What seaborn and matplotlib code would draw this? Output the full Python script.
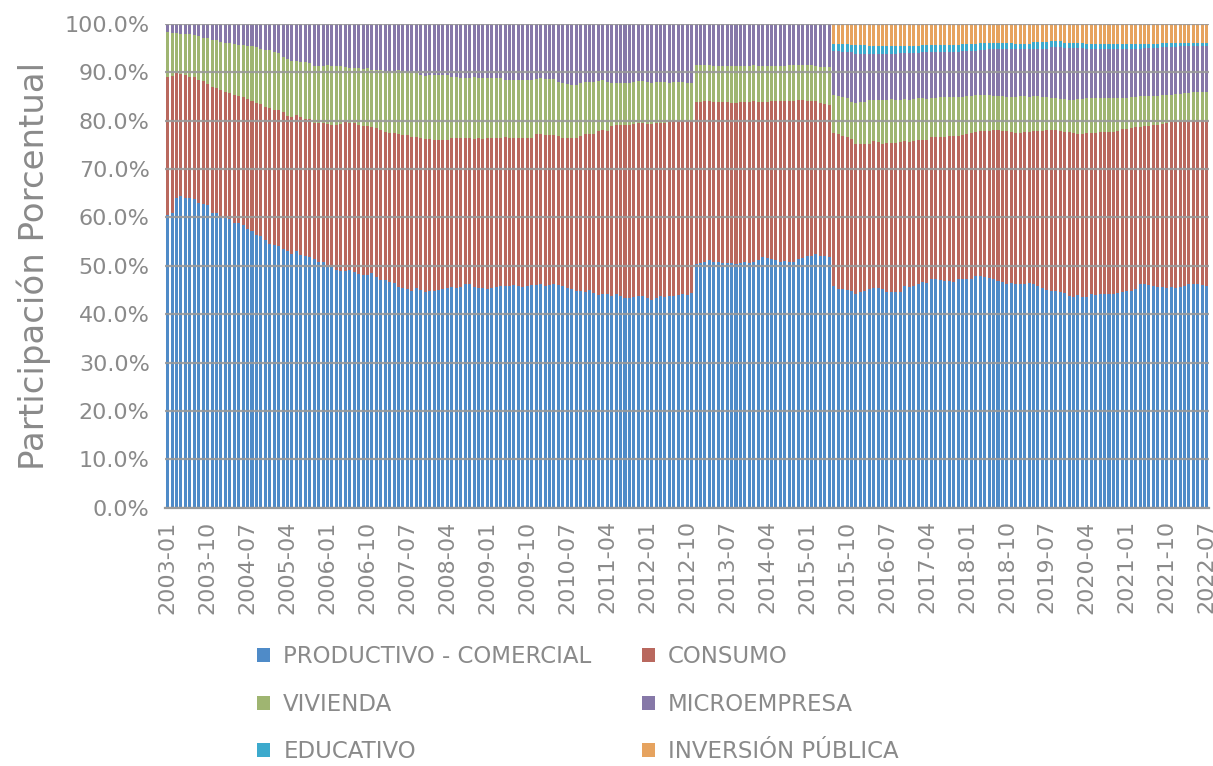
"""
Participación porcentual de la cartera por segmento de crédito (mensual, 2003-01 a 2022-07)
"""
import numpy as np
import pandas as pd
import seaborn as sns
import matplotlib.pyplot as plt
from matplotlib.patches import Patch

sns.set_style("white")
plt.rcParams['font.family'] = ['DejaVu Sans']

MESES = pd.period_range('2003-01', '2022-07', freq='M').strftime('%Y-%m').tolist()

# participación (%) por mes, una fila por año
PRODUCTIVO = [
    60.5, 61.0, 64.1, 64.5, 64.1, 64.1, 63.8, 63.0, 62.8, 62.5, 61.0, 61.0,
    59.9, 59.9, 59.6, 58.9, 58.8, 58.4, 57.7, 57.2, 56.3, 56.2, 55.4, 54.6,
    54.2, 54.0, 53.5, 53.1, 52.5, 53.1, 52.3, 52.1, 51.8, 51.5, 50.8, 50.8,
    49.8, 49.7, 49.2, 49.0, 49.0, 49.2, 48.8, 48.3, 48.0, 48.0, 48.6, 47.6,
    47.1, 47.1, 46.7, 46.5, 45.6, 45.4, 45.3, 44.8, 45.4, 45.1, 44.6, 44.8,
    44.8, 45.0, 45.2, 45.5, 45.6, 45.5, 45.7, 46.3, 46.2, 45.6, 45.4, 45.5,
    45.3, 45.4, 45.7, 45.8, 45.9, 45.8, 46.1, 45.8, 45.7, 45.8, 46.1, 46.0,
    46.2, 45.9, 46.0, 46.2, 46.0, 45.8, 45.5, 45.2, 44.8, 44.8, 44.6, 45.0,
    44.4, 43.9, 44.1, 44.1, 43.8, 44.1, 43.7, 43.4, 43.4, 43.6, 43.7, 43.8,
    43.4, 43.0, 43.4, 43.7, 43.6, 43.8, 43.7, 43.9, 44.1, 43.9, 44.4, 50.3,
    50.5, 50.8, 51.3, 50.8, 50.8, 50.6, 50.6, 50.5, 50.3, 50.6, 50.8, 50.5,
    50.8, 51.3, 51.9, 51.7, 51.5, 51.3, 50.8, 51.0, 50.8, 50.8, 51.4, 51.7,
    52.1, 52.1, 52.4, 52.1, 52.0, 51.9, 45.8, 45.3, 45.2, 45.1, 44.8, 44.1,
    44.5, 44.8, 45.2, 45.5, 45.4, 45.2, 44.6, 44.6, 44.6, 44.6, 45.9, 45.7,
    45.9, 46.2, 46.6, 46.5, 47.2, 47.2, 47.0, 46.8, 46.8, 46.7, 47.2, 47.2,
    47.2, 47.3, 47.9, 47.9, 47.7, 47.5, 47.2, 46.8, 46.7, 46.3, 46.5, 46.2,
    46.3, 46.3, 46.5, 46.2, 45.9, 45.4, 45.1, 44.8, 44.8, 44.6, 44.3, 43.8,
    43.6, 43.9, 43.6, 43.6, 44.1, 43.9, 44.2, 44.2, 44.2, 44.2, 44.4, 44.6,
    44.7, 44.8, 45.2, 46.3, 46.3, 46.1, 45.8, 45.7, 45.7, 45.4, 45.7, 45.4,
    45.7, 45.9, 46.3, 46.3, 46.3, 46.1, 45.8,
]
CONSUMO = [
    28.4, 28.3, 25.7, 25.1, 25.3, 25.0, 25.1, 25.3, 25.3, 25.1, 25.9, 25.8,
    26.4, 26.1, 26.1, 26.3, 26.2, 26.4, 26.7, 26.9, 27.4, 27.2, 27.5, 28.0,
    27.9, 28.1, 28.2, 27.9, 28.3, 28.1, 28.4, 28.3, 28.5, 28.1, 28.6, 28.6,
    29.4, 29.4, 29.8, 30.2, 30.7, 30.4, 30.6, 30.7, 30.8, 30.8, 30.0, 30.8,
    31.0, 30.6, 30.8, 30.9, 31.6, 31.6, 31.7, 31.9, 31.2, 31.2, 31.5, 31.3,
    31.2, 31.0, 30.7, 30.5, 30.7, 30.9, 30.7, 30.1, 30.1, 30.6, 30.9, 30.7,
    31.0, 30.9, 30.7, 30.7, 30.7, 30.7, 30.4, 30.7, 30.7, 30.6, 30.3, 31.2,
    31.0, 31.1, 31.0, 30.8, 30.8, 30.6, 30.9, 31.2, 31.6, 32.1, 32.6, 32.3,
    32.9, 34.0, 34.0, 33.8, 35.1, 35.0, 35.4, 35.7, 35.7, 35.6, 35.9, 35.8,
    35.9, 36.3, 36.0, 35.9, 36.0, 36.0, 36.2, 36.0, 35.8, 36.0, 35.5, 33.6,
    33.4, 33.2, 32.8, 33.1, 33.1, 33.3, 33.3, 33.2, 33.4, 33.2, 33.1, 33.4,
    33.2, 32.6, 32.0, 32.2, 32.6, 32.8, 33.3, 33.1, 33.3, 33.3, 32.8, 32.5,
    32.0, 32.0, 31.7, 31.5, 31.5, 31.4, 31.7, 31.9, 31.7, 31.6, 31.4, 31.1,
    30.7, 30.4, 30.0, 30.2, 30.2, 30.0, 30.8, 30.8, 30.8, 31.0, 29.9, 29.9,
    29.9, 29.7, 29.3, 29.4, 29.5, 29.5, 29.7, 29.9, 30.0, 30.1, 29.7, 29.8,
    30.0, 30.1, 29.8, 30.0, 30.2, 30.4, 30.9, 31.3, 31.2, 31.6, 31.2, 31.2,
    31.2, 31.4, 31.2, 31.7, 32.0, 32.5, 33.0, 33.3, 33.3, 33.3, 33.4, 33.9,
    33.8, 33.4, 33.7, 33.8, 33.4, 33.6, 33.5, 33.5, 33.5, 33.5, 33.5, 33.7,
    33.6, 33.6, 33.4, 32.3, 32.5, 32.8, 33.2, 33.3, 33.5, 34.0, 34.0, 34.4,
    34.1, 33.9, 33.6, 33.7, 33.8, 34.0, 34.3,
]
VIVIENDA = [
    9.3, 8.8, 8.2, 8.3, 8.5, 8.7, 8.8, 9.1, 9.0, 9.4, 9.8, 9.8,
    10.0, 10.1, 10.4, 10.7, 10.7, 10.8, 11.0, 11.2, 11.4, 11.4, 11.7, 11.9,
    12.0, 11.8, 11.4, 11.7, 11.5, 11.2, 11.4, 11.6, 11.6, 11.7, 11.8, 11.8,
    12.2, 12.1, 12.2, 12.0, 11.3, 11.3, 11.4, 11.8, 11.8, 12.0, 11.9, 12.1,
    12.4, 12.6, 12.8, 12.9, 13.3, 13.3, 13.1, 13.2, 13.2, 13.2, 13.1, 13.3,
    13.4, 13.4, 13.6, 13.4, 12.8, 12.5, 12.4, 12.4, 12.4, 12.7, 12.5, 12.6,
    12.5, 12.4, 12.4, 12.3, 11.7, 11.8, 11.8, 11.8, 11.9, 11.9, 11.9, 11.4,
    11.5, 11.6, 11.6, 11.5, 11.2, 11.3, 11.2, 11.0, 11.0, 10.8, 10.7, 10.6,
    10.7, 10.3, 10.2, 10.0, 8.8, 8.6, 8.6, 8.6, 8.7, 8.8, 8.5, 8.5,
    8.6, 8.5, 8.5, 8.3, 8.3, 8.0, 8.0, 8.0, 8.0, 7.9, 7.9, 7.6,
    7.6, 7.4, 7.3, 7.4, 7.4, 7.4, 7.4, 7.6, 7.6, 7.5, 7.4, 7.4,
    7.4, 7.4, 7.4, 7.4, 7.2, 7.2, 7.2, 7.2, 7.3, 7.3, 7.2, 7.2,
    7.3, 7.3, 7.2, 7.5, 7.6, 7.8, 7.7, 7.8, 7.9, 7.9, 7.6, 8.5,
    8.7, 8.6, 9.1, 8.6, 8.7, 9.1, 8.9, 9.0, 8.9, 8.7, 8.6, 8.7,
    8.6, 8.7, 8.7, 8.6, 7.9, 8.0, 8.1, 8.1, 8.0, 8.0, 7.9, 7.8,
    7.8, 7.7, 7.5, 7.4, 7.4, 7.3, 7.0, 7.0, 7.2, 6.9, 7.1, 7.4,
    7.6, 7.4, 7.1, 7.2, 7.2, 6.9, 6.7, 6.5, 6.5, 6.5, 6.7, 6.6,
    6.9, 7.1, 7.1, 7.2, 7.1, 7.2, 7.0, 7.0, 6.9, 7.0, 6.8, 6.3,
    6.4, 6.4, 6.2, 6.4, 6.2, 6.1, 6.0, 6.1, 6.0, 5.8, 5.6, 5.6,
    5.7, 5.9, 5.8, 5.8, 5.7, 5.8, 5.9,
]
MICROEMPRESA = [
    1.8, 1.9, 2.0, 2.1, 2.1, 2.2, 2.3, 2.6, 2.9, 3.0, 3.3, 3.4,
    3.7, 3.9, 3.9, 4.1, 4.3, 4.4, 4.6, 4.7, 4.9, 5.2, 5.4, 5.5,
    5.9, 6.1, 6.9, 7.3, 7.7, 7.6, 7.9, 8.0, 8.1, 8.7, 8.8, 8.8,
    8.6, 8.8, 8.8, 8.8, 9.0, 9.1, 9.2, 9.2, 9.4, 9.2, 9.5, 9.5,
    9.5, 9.7, 9.7, 9.7, 9.5, 9.7, 9.9, 10.1, 10.2, 10.5, 10.8, 10.6,
    10.6, 10.6, 10.5, 10.6, 10.9, 11.1, 11.2, 11.2, 11.3, 11.1, 11.2, 11.2,
    11.2, 11.3, 11.2, 11.2, 11.7, 11.7, 11.7, 11.7, 11.7, 11.7, 11.7, 11.4,
    11.3, 11.4, 11.4, 11.5, 12.0, 12.3, 12.4, 12.6, 12.6, 12.3, 12.1, 12.1,
    12.0, 11.8, 11.7, 12.1, 12.3, 12.3, 12.3, 12.3, 12.2, 12.0, 11.9, 11.9,
    12.1, 12.2, 12.1, 12.1, 12.1, 12.2, 12.1, 12.1, 12.1, 12.2, 12.2, 8.5,
    8.5, 8.6, 8.6, 8.7, 8.7, 8.7, 8.7, 8.7, 8.7, 8.7, 8.7, 8.7,
    8.6, 8.7, 8.7, 8.7, 8.7, 8.7, 8.7, 8.7, 8.6, 8.6, 8.6, 8.6,
    8.6, 8.6, 8.7, 8.9, 8.9, 8.9, 9.2, 9.4, 9.3, 9.5, 10.3, 10.1,
    9.9, 10.0, 9.5, 9.5, 9.5, 9.5, 9.5, 9.4, 9.5, 9.6, 9.5, 9.6,
    9.5, 9.3, 9.5, 9.6, 9.5, 9.4, 9.3, 9.3, 9.3, 9.3, 9.3, 9.5,
    9.3, 9.2, 9.1, 9.3, 9.3, 9.6, 9.7, 9.7, 9.7, 10.0, 10.0, 10.0,
    9.7, 9.7, 10.0, 9.7, 9.7, 10.0, 10.0, 10.5, 10.5, 10.7, 10.6, 10.7,
    10.7, 10.6, 10.6, 10.2, 10.2, 10.1, 10.1, 10.1, 10.2, 10.1, 10.1, 10.2,
    10.1, 10.0, 10.0, 9.8, 10.0, 10.0, 10.0, 9.9, 10.0, 10.0, 9.9, 9.8,
    9.9, 9.7, 9.7, 9.6, 9.6, 9.5, 9.4,
]
# segmentos que aparecen desde 2015-07
EDUCATIVO_DESDE_2015_07 = [
    1.4, 1.4, 1.7, 1.7, 1.6, 1.9,
    1.9, 1.9, 1.7, 1.7, 1.7, 1.7, 1.7, 1.7, 1.5, 1.6, 1.6, 1.6,
    1.6, 1.6, 1.6, 1.6, 1.6, 1.6, 1.6, 1.6, 1.6, 1.6, 1.6, 1.5,
    1.5, 1.5, 1.5, 1.4, 1.5, 1.3, 1.3, 1.3, 1.3, 1.3, 1.3, 1.1,
    1.1, 1.1, 1.1, 1.4, 1.4, 1.4, 1.4, 1.3, 1.3, 1.3, 1.1, 1.1,
    1.1, 1.1, 1.1, 1.1, 1.1, 1.1, 1.1, 1.1, 1.1, 1.1, 1.1, 1.1,
    1.1, 1.0, 1.0, 1.0, 0.9, 0.9, 0.9, 0.9, 0.9, 0.9, 0.9, 0.9,
    0.7, 0.7, 0.7, 0.7, 0.7, 0.7, 0.7,
]
INVERSION_DESDE_2015_07 = [
    4.2, 4.2, 4.2, 4.2, 4.3, 4.3,
    4.3, 4.3, 4.5, 4.5, 4.5, 4.5, 4.5, 4.5, 4.7, 4.5, 4.5, 4.5,
    4.5, 4.5, 4.3, 4.3, 4.3, 4.3, 4.3, 4.3, 4.3, 4.3, 4.3, 4.2,
    4.2, 4.2, 4.2, 4.0, 3.9, 3.9, 3.9, 3.9, 3.9, 3.9, 3.9, 4.1,
    4.1, 4.1, 4.1, 3.8, 3.8, 3.8, 3.8, 3.6, 3.6, 3.6, 3.9, 3.9,
    3.9, 3.9, 3.9, 4.1, 4.1, 4.1, 4.1, 4.1, 4.1, 4.1, 4.1, 4.1,
    4.1, 4.2, 4.2, 4.2, 4.1, 4.1, 4.1, 4.1, 3.9, 3.9, 3.9, 3.9,
    3.9, 3.9, 3.9, 3.9, 3.9, 3.9, 3.9,
]

SEGMENTOS = ['PRODUCTIVO - COMERCIAL', 'CONSUMO', 'VIVIENDA',
             'MICROEMPRESA', 'EDUCATIVO', 'INVERSIÓN PÚBLICA']
COLORES = ['#4f8bc8', '#b9685e', '#9fb571', '#8678a8', '#3caacd', '#e6a35f']
GRIS = '#8a8a8a'


def plot_participacion(out_path):
    antes = len(MESES) - len(EDUCATIVO_DESDE_2015_07)
    df = pd.DataFrame({
        'mes': MESES,
        SEGMENTOS[0]: PRODUCTIVO,
        SEGMENTOS[1]: CONSUMO,
        SEGMENTOS[2]: VIVIENDA,
        SEGMENTOS[3]: MICROEMPRESA,
        SEGMENTOS[4]: [0.0] * antes + EDUCATIVO_DESDE_2015_07,
        SEGMENTOS[5]: [0.0] * antes + INVERSION_DESDE_2015_07,
    })

    fig = plt.figure(figsize=(12.13, 7.66), dpi=100)
    ax = fig.add_axes([0.136, 0.337, 0.861, 0.632])

    base = np.zeros(len(df))
    for seg, color in zip(SEGMENTOS, COLORES):
        sns.barplot(data=df, x='mes', y=seg, color=color, saturation=1,
                    width=0.68, linewidth=0, errorbar=None,
                    bottom=base, ax=ax)
        base = base + df[seg].to_numpy()

    ax.set_ylim(0, 100)
    ax.set_xlim(-0.6, len(df) - 0.4)
    ax.set_yticks(np.arange(0, 101, 10))
    ax.set_yticklabels([f'{v:.1f}%' for v in np.arange(0, 101, 10)])
    pos = np.arange(0, len(df), 9)
    ax.set_xticks(pos)
    ax.set_xticklabels([MESES[i] for i in pos], rotation=90)
    ax.tick_params(axis='both', colors=GRIS, labelsize=16, length=0)
    ax.tick_params(axis='y', pad=11)
    ax.tick_params(axis='x', pad=9)
    ax.set_xlabel('')
    ax.set_ylabel('Participación Porcentual', color=GRIS, fontsize=24.5, labelpad=10)

    ax.set_axisbelow(False)
    ax.yaxis.grid(True, color='#9a9a9a', linewidth=1.6, alpha=0.9)
    sns.despine(ax=ax, left=True, top=True, right=True)
    ax.spines['bottom'].set_color('#9a9a9a')
    ax.spines['bottom'].set_linewidth(1.6)

    handles = [Patch(facecolor=c, edgecolor='none') for c in COLORES]
    orden = [0, 2, 4, 1, 3, 5]
    ax.legend([handles[i] for i in orden], [SEGMENTOS[i] for i in orden],
              ncol=2, frameon=False, loc='upper left',
              bbox_to_anchor=(0.212, 0.158), bbox_transform=fig.transFigure,
              fontsize=16.5, labelcolor=GRIS, handlelength=0.57, handleheight=0.57,
              handletextpad=0.57, columnspacing=2.2, labelspacing=1.08,
              borderpad=0, borderaxespad=0)

    fig.savefig(out_path)
    return ax


plot_participacion('out.png')
